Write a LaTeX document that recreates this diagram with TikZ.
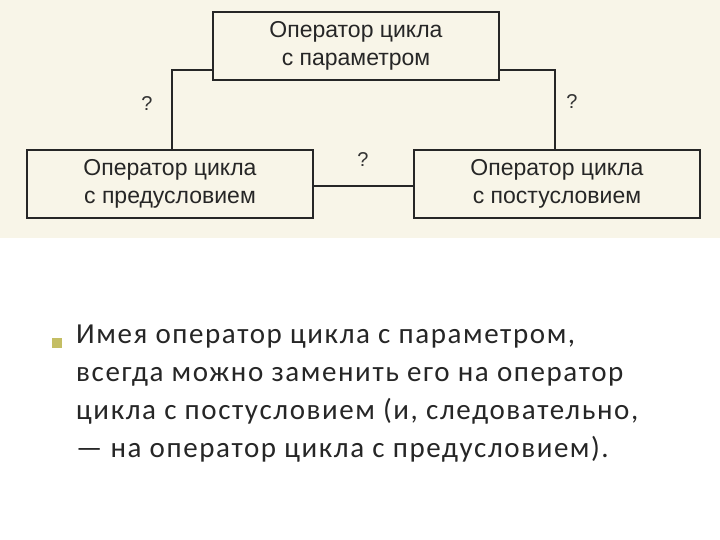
\documentclass[tikz,border=0pt]{standalone}
\usepackage{fontspec}
\setmainfont{Carlito}[LetterSpace=5.5]
\newfontfamily\boxfont{Liberation Sans}
\begin{document}
\begin{tikzpicture}[x=1pt,y=-1pt,
  blk/.style={draw=black!85,line width=1.8pt,minimum width=286pt,minimum height=68pt,align=center,font=\boxfont\fontsize{23}{28}\selectfont,text=black!85},
  lnk/.style={draw=black!85,line width=1.8pt},
  qm/.style={font=\boxfont\fontsize{20}{20}\selectfont,text=black!80}]
\useasboundingbox (0,0) rectangle (720,540);
\fill[white] (0,0) rectangle (720,540);
\fill[color={rgb,255:red,248;green,245;blue,232}] (0,0) rectangle (720,238);
\node[blk] (p) at (356,46) {Оператор цикла\\с параметром};
\node[blk] (pre) at (170,184) {Оператор цикла\\с предусловием};
\node[blk] (post) at (557,184) {Оператор цикла\\с постусловием};
\draw[lnk] (p.west |- 0,70) -| (pre.north -| 172,0);
\draw[lnk] (p.east |- 0,70) -| (post.north -| 555,0);
\draw[lnk] (pre.east |- 0,186) -- (post.west |- 0,186);
\node[qm] (q1) at (147,104) {?};
\node[qm] (q2) at (572,102) {?};
\node[qm] (q3) at (363,160) {?};
\fill[color={rgb,255:red,196;green,190;blue,100}] (52,338) rectangle (62,348) node (b) {};
\node[anchor=north west,align=left,inner sep=0pt,font=\fontsize{29}{38}\selectfont,text=black!85] (t) at (76,325)
{Имея оператор цикла с параметром,\\всегда можно заменить его на оператор\\цикла с постусловием (и, следовательно,\\— на оператор цикла с предусловием).};
\end{tikzpicture}
\end{document}
